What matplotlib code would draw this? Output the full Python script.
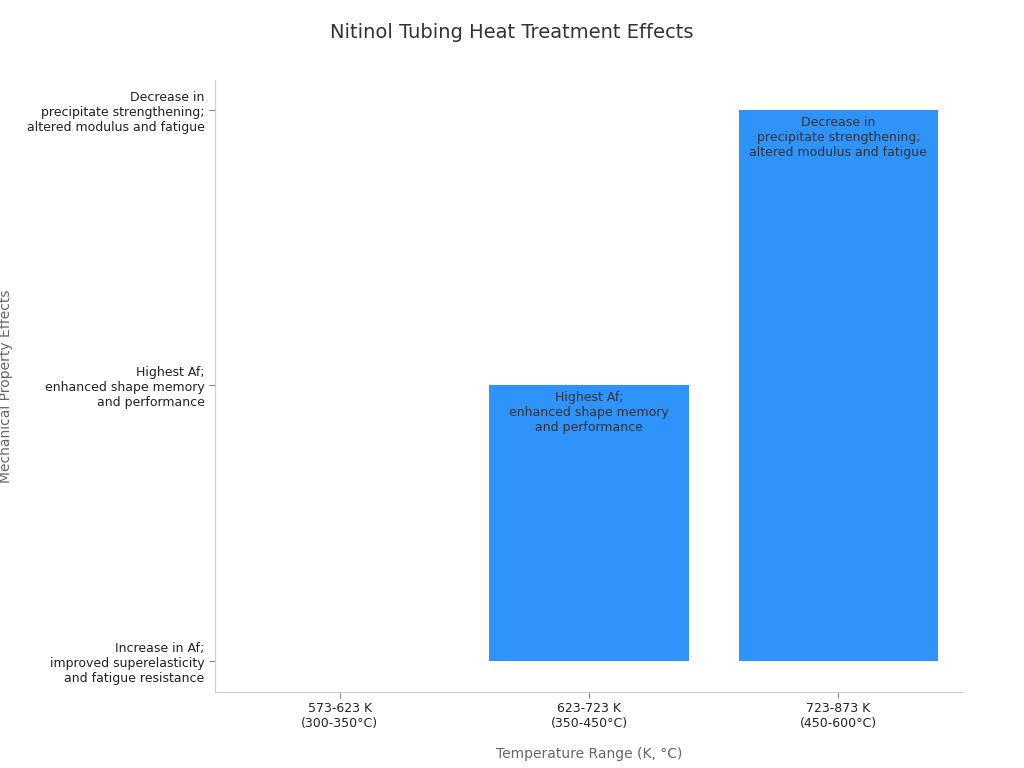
import matplotlib
matplotlib.use("Agg")
import matplotlib.pyplot as plt

categories = ["573-623 K\n(300-350°C)", "623-723 K\n(350-450°C)", "723-873 K\n(450-600°C)"]
effect_labels = ["Increase in Af;\nimproved superelasticity\nand fatigue resistance",
                 "Highest Af;\nenhanced shape memory\nand performance",
                 "Decrease in\nprecipitate strengthening;\naltered modulus and fatigue"]
values = [0, 1, 2]

fig = plt.figure(figsize=(10.24, 7.68), dpi=100)
ax = fig.add_axes([215/1024, 1-692/768, (963-215)/1024, (692-80)/768])
x = list(range(len(categories)))
bars = ax.bar(x, values, width=0.8, color="#2E93FA", bottom=0)
for xi, v in zip(x, values):
    if v > 0:
        ax.text(xi, v - 0.02, effect_labels[v], ha="center", va="top", fontsize=9, color="#333333")
ax.set_xlim(-0.5, 2.5)
ax.set_ylim(-0.113, 2.109)
ax.set_xticks(x)
ax.set_xticklabels(categories, fontsize=9, color="#222222")
ax.set_yticks(values)
ax.set_yticklabels(effect_labels, fontsize=9, color="#222222")
for s in ["top", "right"]:
    ax.spines[s].set_visible(False)
for s in ["left", "bottom"]:
    ax.spines[s].set_color("#cccccc")
ax.tick_params(colors="#888888", labelcolor="#222222", length=4)
ax.set_xlabel("Temperature Range (K, °C)", fontsize=10, color="#666666", labelpad=12)
ax.set_ylabel("Mechanical Property Effects", fontsize=10, color="#666666", labelpad=10)
fig.text(0.5, 1-33/768, "Nitinol Tubing Heat Treatment Effects", ha="center", va="center", fontsize=14, color="#333333")
fig.savefig("out.png", dpi=100)
